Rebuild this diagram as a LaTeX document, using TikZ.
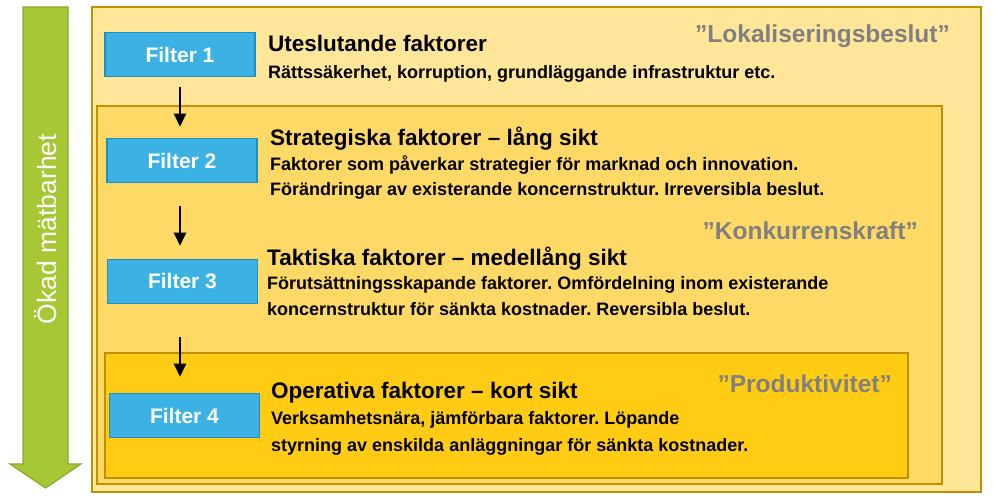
\documentclass[tikz,border=0pt]{standalone}
\usepackage{fontspec}
\setmainfont{Liberation Sans}
\usetikzlibrary{arrows.meta}
\definecolor{lightY}{HTML}{FFE699}
\definecolor{midY}{HTML}{FFD966}
\definecolor{darkY}{HTML}{FFCC13}
\definecolor{goldL}{HTML}{BF9000}
\definecolor{fblue}{HTML}{3CB2E4}
\definecolor{fbord}{HTML}{1F8DC6}
\definecolor{gfill}{HTML}{A7C835}
\definecolor{gbord}{HTML}{8CA82E}
\definecolor{greyT}{HTML}{808080}
\frenchspacing
\begin{document}
\begin{tikzpicture}[x=1pt,y=-1pt,
  zone/.style={draw=goldL, line width=2pt},
  filt/.style={draw=fbord, fill=fblue, line width=1.5pt, minimum width=150pt, minimum height=44pt, inner sep=0pt, text=white, font=\bfseries\fontsize{21}{21}\selectfont},
  head/.style={anchor=base west, inner sep=0pt, font=\bfseries\fontsize{22.5}{22.5}\selectfont},
  body/.style={anchor=base west, inner sep=0pt, font=\bfseries\fontsize{18}{18}\selectfont},
  tag/.style={anchor=base east, inner sep=0pt, text=greyT, font=\bfseries\fontsize{24.5}{24.5}\selectfont},
  arr/.style={-{Triangle[width=12pt,length=13pt]}, line width=2pt}]
\useasboundingbox (0,0) rectangle (994,502);
% green arrow
\draw[fill=gfill, draw=gbord, line width=1.2pt] (23,7) -- (68,7) -- (68,464) -- (81,464) -- (45.5,488) -- (10,464) -- (23,464) -- cycle;
\node[rotate=90, text=white, inner sep=0pt, font=\fontsize{26.5}{26.5}\selectfont] (ok) at (46,229) {Ökad mätbarhet};
% zones
\draw[zone, fill=lightY] (92,7) rectangle (981,492);
\draw[zone, fill=midY] (97,106) rectangle (942,484);
\draw[zone, fill=darkY] (105,353) rectangle (908,478);
% filters
\node[filt] (f1) at (180,54.5) {Filter 1};
\node[filt] (f2) at (182,160.5) {Filter 2};
\node[filt] (f3) at (182.5,281.5) {Filter 3};
\node[filt] (f4) at (184.5,415.5) {Filter 4};
\draw[arr, shorten <=10pt, shorten >=11pt] (f1.south) -- (f1.south |- f2.north);
\draw[arr, shorten <=23pt, shorten >=13pt] (f2.south -| f1.south) -- (f1.south |- f3.north);
\draw[arr, shorten <=33pt, shorten >=16pt] (f3.south -| f1.south) -- (f1.south |- f4.north);
% texts
\node[head] (h1) at (268,52) {Uteslutande faktorer};
\node[body] (b1) at (268,79) {Rättssäkerhet, korruption, grundläggande infrastruktur etc.};
\node[head] (h2) at (270,146) {Strategiska faktorer – lång sikt};
\node[body] (b2a) at (270,171) {Faktorer som påverkar strategier för marknad och innovation.};
\node[body] (b2b) at (270,196) {Förändringar av existerande koncernstruktur. Irreversibla beslut.};
\node[head] (h3) at (267,266) {Taktiska faktorer – medellång sikt};
\node[body] (b3a) at (267,290) {Förutsättningsskapande faktorer. Omfördelning inom existerande};
\node[body] (b3b) at (267,316) {koncernstruktur för sänkta kostnader. Reversibla beslut.};
\node[head] (h4) at (271,399) {Operativa faktorer – kort sikt};
\node[body] (b4a) at (271,425) {Verksamhetsnära, jämförbara faktorer. Löpande};
\node[body] (b4b) at (271,452) {styrning av enskilda anläggningar för sänkta kostnader.};
\node[tag] (t1) at (950,43) {”Lokaliseringsbeslut”};
\node[tag] (t2) at (918,240) {”Konkurrenskraft”};
\node[tag] (t3) at (892,393) {”Produktivitet”};
\end{tikzpicture}
\end{document}
